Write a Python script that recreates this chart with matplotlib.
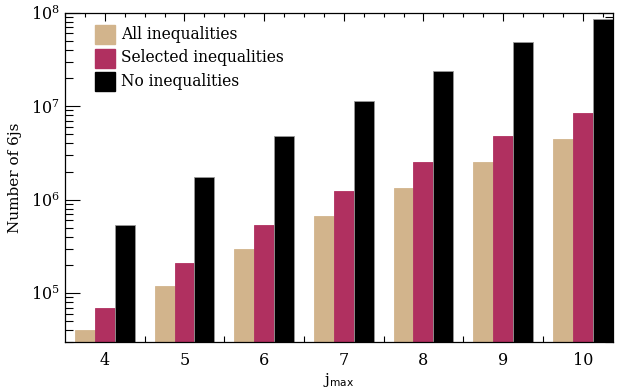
import numpy as np
import matplotlib
matplotlib.use('Agg')
import matplotlib.pyplot as plt
from matplotlib.ticker import FixedLocator, LogLocator, NullFormatter
from matplotlib.patches import Rectangle

# data
jmax = [4, 5, 6, 7, 8, 9, 10]
all_ineq = [3.9e4, 1.17e5, 2.96e5, 6.6e5, 1.34e6, 2.53e6, 4.5e6]
sel_ineq = [6.8e4, 2.1e5, 5.4e5, 1.23e6, 2.51e6, 4.8e6, 8.4e6]
no_ineq = [5.3e5, 1.76e6, 4.75e6, 1.13e7, 2.36e7, 4.83e7, 8.6e7]
labels = ['All inequalities', 'Selected inequalities', 'No inequalities']
colors = ['#D2B48C', '#B03060', '#000000']

plt.rcParams['font.family'] = 'DejaVu Serif'
plt.rcParams['font.size'] = 10.5

fig = plt.figure(figsize=(6.28, 3.90), dpi=100)
ax = fig.add_axes([65/628, 48/390, 548/628, 329.3/390])

x = np.array(jmax, dtype=float)
w = 0.25
for i, vals in enumerate([all_ineq, sel_ineq, no_ineq]):
    ax.bar(x + (i - 1) * w, vals, width=w, bottom=1e3, color=colors[i],
           edgecolor='#999999' if i == 2 else colors[i], linewidth=0.6)

ax.set_yscale('log')
ax.set_ylim(3e4, 1e8)
ax.set_xlim(3.5, 10.38)

# y ticks
ax.yaxis.set_major_locator(LogLocator(base=10))
ax.yaxis.set_minor_locator(LogLocator(base=10, subs=np.arange(2, 10)))
ax.yaxis.set_minor_formatter(NullFormatter())
ax.tick_params(axis='y', which='major', direction='in', length=11, width=0.8,
               right=True, left=True, labelsize=11.5, pad=4)
ax.tick_params(axis='y', which='minor', direction='in', length=6, width=0.8,
               right=True, left=True)

# x ticks: bottom ticks between groups, labels at group centres
ax.set_xticks(x)
ax.set_xticklabels([str(j) for j in jmax])
ax.tick_params(axis='x', which='major', length=0, pad=7, labelsize=11.5)
ax.xaxis.set_minor_locator(FixedLocator(x[:-1] + 0.5))
ax.tick_params(axis='x', which='minor', direction='in', length=4, width=0.8,
               bottom=True, top=False)
top = ax.secondary_xaxis('top')
top.set_xticks(x)
top.xaxis.set_minor_locator(FixedLocator(np.arange(3.5, 10.4, 0.25)))
top.tick_params(axis='x', which='major', direction='in', length=6, width=0.8,
                labeltop=False)
top.tick_params(axis='x', which='minor', direction='in', length=3, width=0.8)
top.spines['top'].set_visible(False)

for s in ax.spines.values():
    s.set_linewidth(0.9)

ax.set_ylabel('Number of 6js', fontsize=11, labelpad=6)
fig.text(339/628, 1/390, r'j$_{\mathrm{max}}$', fontsize=11,
         ha='center', va='bottom')

# legend boxes
for i, lab in enumerate(labels):
    y0 = 44 + i * 23.5
    fig.patches.append(Rectangle((95/628, 1 - y0/390), 20/628, 18.5/390,
                                 transform=fig.transFigure, color=colors[i]))
    fig.text(121/628, 1 - (y0 - 1)/390, lab, fontsize=11.2, va='bottom')

fig.savefig('out.png', dpi=100)
